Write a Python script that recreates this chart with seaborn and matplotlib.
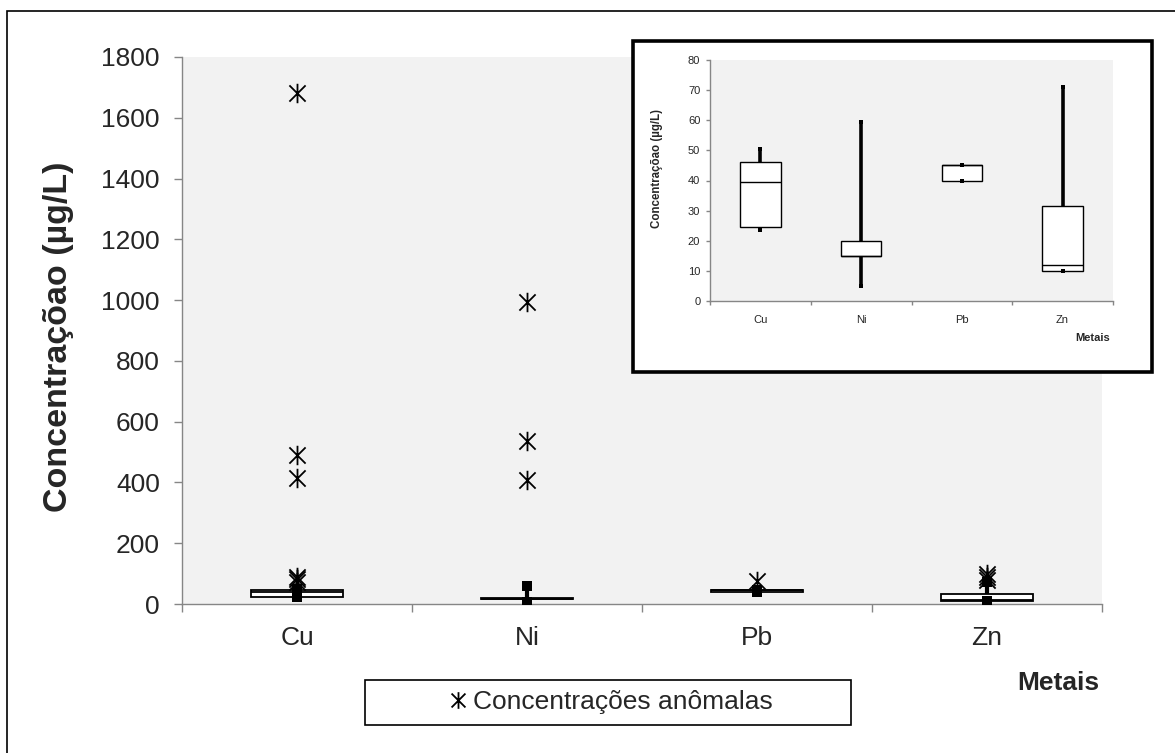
import numpy as np
import pandas as pd
import matplotlib
matplotlib.use("Agg")
import matplotlib.pyplot as plt
from matplotlib.path import Path
from matplotlib.patches import Rectangle
from matplotlib.lines import Line2D
import seaborn as sns

# ---- data -------------------------------------------------------------
metais = ["Cu", "Ni", "Pb", "Zn"]
bigode_inf = [23.5, 5.0, 40.0, 10.0]
quartil_1 = [24.5, 15.0, 40.0, 10.0]
mediana = [39.5, 15.0, 45.0, 12.0]
quartil_3 = [46.0, 20.0, 45.0, 31.5]
bigode_sup = [50.5, 59.5, 45.0, 71.0]

anomalas_metal = ["Cu", "Cu", "Cu", "Cu", "Cu", "Cu",
                  "Ni", "Ni", "Ni", "Pb", "Zn", "Zn", "Zn"]
anomalas_valor = [1680, 490, 413, 90, 82, 72,
                  995, 535, 407, 75, 100, 90, 80]

ticks_principal = [0, 200, 400, 600, 800, 1000, 1200, 1400, 1600, 1800]
ticks_detalhe = [0, 10, 20, 30, 40, 50, 60, 70, 80]

rotulo_y = "Concentraçõao (µg/L)"
rotulo_x = "Metais"
rotulo_legenda = "Concentrações anômalas"

# five-number summaries expanded to tables seaborn can summarise again
linhas = []
for m, lo, a, md, b, hi in zip(metais, bigode_inf, quartil_1, mediana,
                               quartil_3, bigode_sup):
    for v in (lo, a, md, b, hi):
        linhas.append({"Metal": m, "Valor": v})
caixas = pd.DataFrame(linhas)

extremos = pd.DataFrame({
    "Metal": metais + metais,
    "Valor": bigode_inf + bigode_sup,
})
anomalas = pd.DataFrame({"Metal": anomalas_metal, "Valor": anomalas_valor})

# ---- style ------------------------------------------------------------
sns.set_style("white")
plt.rcParams["font.family"] = ["Liberation Sans", "DejaVu Sans"]

CINZA_EIXO = "#868686"
FUNDO = "#f2f2f2"

# asterisk marker: an X crossed by a vertical stroke
estrela = Path(
    [(-1, -1), (1, 1), (-1, 1), (1, -1), (0, -1.2), (0, 1.2)],
    [Path.MOVETO, Path.LINETO, Path.MOVETO, Path.LINETO, Path.MOVETO, Path.LINETO],
)

W, H = 1175, 753
fig = plt.figure(figsize=(W / 100, H / 100), dpi=100)


def fx(px):
    return px / W


def fy(py):
    return 1 - py / H


def desenhar_caixas(ax, lw_caixa, lw_bigode, tam_cap):
    sns.boxplot(
        data=caixas, x="Metal", y="Valor", order=metais, whis=(0, 100),
        width=0.4, color="white", linecolor="black", linewidth=lw_caixa,
        fliersize=0, saturation=1,
        whiskerprops=dict(linewidth=lw_bigode, color="black"),
        capprops=dict(linewidth=0),
        medianprops=dict(linewidth=lw_caixa, color="black"),
        ax=ax,
    )
    sns.stripplot(
        data=extremos, x="Metal", y="Valor", order=metais, jitter=False,
        marker="s", size=tam_cap, color="black", linewidth=0, ax=ax,
        zorder=4,
    )


def estilo_eixos(ax, ticks, tam_fonte, comp_tick, pad_y, pad_x):
    ax.set_facecolor(FUNDO)
    for lado in ("top", "right"):
        ax.spines[lado].set_visible(False)
    for lado in ("left", "bottom"):
        ax.spines[lado].set_color(CINZA_EIXO)
        ax.spines[lado].set_linewidth(1.0)
    ax.set_ylim(ticks[0], ticks[-1])
    ax.set_yticks(ticks)
    ax.set_yticklabels([str(t) for t in ticks])
    ax.set_xlim(-0.5, len(metais) - 0.5)
    ax.set_xticks(range(len(metais)))
    ax.set_xticklabels(metais)
    ax.set_xticks(np.arange(len(metais) + 1) - 0.5, minor=True)
    ax.tick_params(axis="y", which="major", left=True, length=comp_tick,
                   width=1, color=CINZA_EIXO, pad=pad_y, labelsize=tam_fonte,
                   direction="out")
    ax.tick_params(axis="x", which="major", bottom=True, length=0,
                   pad=pad_x, labelsize=tam_fonte)
    ax.tick_params(axis="x", which="minor", bottom=True, length=comp_tick,
                   width=1, color=CINZA_EIXO, direction="out")
    ax.set_xlabel("")
    ax.set_ylabel("")
    ax.grid(False)


# ---- outer frame ------------------------------------------------------
fig.add_artist(Rectangle((fx(7), -0.2), 1.3, fy(11) + 0.2,
                         transform=fig.transFigure, fill=False,
                         edgecolor="black", linewidth=1.2, zorder=0))

# ---- main chart -------------------------------------------------------
ax = fig.add_axes([fx(182), fy(604), fx(1102) - fx(182), fy(57) - fy(604)])
ax.set_zorder(1)
desenhar_caixas(ax, lw_caixa=1.3, lw_bigode=3.0, tam_cap=7)
sns.stripplot(
    data=anomalas, x="Metal", y="Valor", order=metais, jitter=False,
    marker=estrela, size=14, color="black", edgecolor="black",
    linewidth=1.3, ax=ax, zorder=5,
)
estilo_eixos(ax, ticks_principal, 19, 6, 10, 16)

fig.text(fx(58), fy(337), rotulo_y, rotation=90, ha="center", va="center",
         fontsize=24.5, fontweight="bold")
fig.text(fx(1058), fy(683), rotulo_x, ha="center", va="center",
         fontsize=19, fontweight="bold")

# legend with its own wide frame
fig.add_artist(Rectangle((fx(365), fy(725)), fx(851) - fx(365), fy(680) - fy(725),
                         transform=fig.transFigure, facecolor="white",
                         edgecolor="black", linewidth=1.2, zorder=3))
marcador = Line2D([], [], marker=estrela, linestyle="none", color="black",
                  markersize=12, markeredgewidth=1.3)
leg = fig.legend([marcador], [rotulo_legenda], loc="center",
                 bbox_to_anchor=(fx(610), fy(702)), frameon=False, fontsize=19,
                 handlelength=0.8, handletextpad=0.15, borderpad=0)
leg.set_zorder(4)

# ---- detail panel -----------------------------------------------------
fig.add_artist(Rectangle((fx(633), fy(372)), fx(1152) - fx(633), fy(41) - fy(372),
                         transform=fig.transFigure, facecolor="white",
                         edgecolor="black", linewidth=2.6, zorder=2))
ax2 = fig.add_axes([fx(710), fy(301), fx(1113) - fx(710), fy(60) - fy(301)])
ax2.set_zorder(3)
desenhar_caixas(ax2, lw_caixa=1.0, lw_bigode=2.6, tam_cap=3.5)
estilo_eixos(ax2, ticks_detalhe, 8, 3, 4, 10)

fig.text(fx(657), fy(168), rotulo_y, rotation=90, ha="center", va="center",
         fontsize=8.3, fontweight="bold", zorder=4)
fig.text(fx(1093), fy(338), rotulo_x, ha="center", va="center",
         fontsize=8, fontweight="bold", zorder=4)

fig.savefig("out.png", dpi=100)
